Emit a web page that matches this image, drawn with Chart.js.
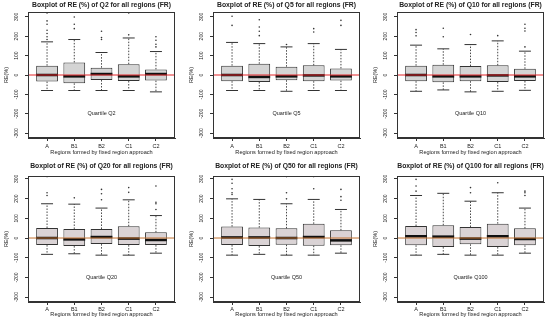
<!DOCTYPE html>
<html>
<head>
<meta charset="utf-8">
<script src="https://cdn.jsdelivr.net/npm/chart.js@4.4.1/dist/chart.umd.min.js"></script>
<style>
  body { margin: 0; background: #fff; width: 550px; height: 321px; position: relative; overflow: hidden; }
  canvas { position: absolute; }
</style>
</head>
<body>
<canvas id="c0" width="181" height="160" style="left:0;top:0"></canvas>
<canvas id="c1" width="181" height="160" style="left:185px;top:0"></canvas>
<canvas id="c2" width="181" height="160" style="left:369px;top:0"></canvas>
<canvas id="c3" width="181" height="161" style="left:0;top:160px"></canvas>
<canvas id="c4" width="181" height="161" style="left:185px;top:160px"></canvas>
<canvas id="c5" width="181" height="161" style="left:369px;top:160px"></canvas>
<script>
// regions (x categories) and y ticks
const regions = ['A', 'B1', 'B2', 'C1', 'C2'];
const yTicks = [-300, -200, -100, 0, 100, 200, 300];
const quantiles = ['Q2', 'Q5', 'Q10', 'Q20', 'Q50', 'Q100'];
const labelY = -200; // where "Quartile Qx" sits

// box stats per region: [lower whisker, Q1, median, Q3, upper whisker]
const q2Stats   = [[-80,-34,0,48,171], [-80,-43,-7,65,183], [-80,-26,5,38,116], [-80,-31,-7,56,191], [-87,-29,5,29,121]];
const q5Stats   = [[-80,-32,0,48,168], [-80,-36,-10,58,162], [-84,-27,-7,43,145], [-80,-32,-2,50,162], [-80,-29,-7,34,132]];
const q10Stats  = [[-84,-32,0,48,154], [-77,-38,-7,53,135], [-87,-32,-7,46,157], [-84,-36,-2,50,176], [-79,-31,-7,32,123]];
const q20Stats  = [[-83,-36,0,51,174], [-80,-41,-7,46,172], [-87,-31,5,46,152], [-87,-36,-3,60,194], [-77,-36,-10,29,114]];
const q50Stats  = [[-87,-36,3,58,199], [-83,-41,3,53,196], [-87,-34,0,49,174], [-87,-39,5,72,196], [-77,-37,-12,39,145]];
const q100Stats = [[-87,-37,9,61,216], [-83,-46,7,65,227], [-87,-32,-3,56,187], [-87,-46,9,73,230], [-77,-37,-5,49,152]];

// outliers per region
const q2Out   = [[183,197,214,231,262,279,320], [239,262,299], [183,193,226], [207,320], [145,159,179,197]];
const q5Out   = [[256,303], [203,226,248,285], [157], [222,239], [256,282]];
const q10Out  = [[202,219,234], [197,241], [209], [203], [145,227,241,262]];
const q20Out  = [[216,230,312], [204], [194,225,247], [232,256], [145,174,182,264]];
const q50Out  = [[221,230,250,278,298], [], [199,230,312], [250,312], [192,210,247]];
const q100Out = [[238,264,298], [], [230,256], [281,319], [216,230,238]];

const allStats = [q2Stats, q5Stats, q10Stats, q20Stats, q50Stats, q100Stats];
const allOut = [q2Out, q5Out, q10Out, q20Out, q50Out, q100Out];

const FONT = 'Liberation Sans';

// R style frame around the plot
const framePlugin = {
  id: 'frame',
  afterDraw(chart) {
    const a = chart.chartArea;
    const ctx = chart.ctx;
    ctx.save();
    ctx.strokeStyle = '#333';
    ctx.lineWidth = 1;
    ctx.strokeRect(Math.round(a.left) + 0.5, Math.round(a.top) + 0.5,
      Math.round(a.right - a.left) - 1, Math.round(a.bottom - a.top) - 1);
    ctx.restore();
  }
};

// "Quartile Qx" text inside plot
const noteText = {
  id: 'noteText',
  afterDatasetsDraw(chart, args, opts) {
    const ctx = chart.ctx;
    ctx.save();
    ctx.font = '5.5px "' + FONT + '"';
    ctx.fillStyle = '#222';
    ctx.textAlign = 'center';
    ctx.textBaseline = 'middle';
    ctx.fillText(opts.text, chart.scales.x.getPixelForValue(3), chart.scales.y.getPixelForValue(labelY));
    ctx.restore();
  }
};

function halfBox(ctx, frac) {
  const s = ctx.chart.scales.x;
  return s.getPixelForValue(1 + frac) - s.getPixelForValue(1);
}

function makeChart(idx) {
  const stats = allStats[idx];
  const outs = allOut[idx];
  const top = idx < 3;

  const boxes = stats.map((s, i) => ({ x: i + 1, y: [s[1], s[3]] }));
  const medians = stats.map((s, i) => ({ x: i + 1, y: s[2] }));
  const caps = [];
  const whiskers = [];
  stats.forEach((s, i) => {
    caps.push({ x: i + 1, y: s[0] }, { x: i + 1, y: s[4] });
    whiskers.push({ x: i + 1, y: s[1] }, { x: i + 1, y: s[0] }, { x: i + 1, y: null });
    whiskers.push({ x: i + 1, y: s[3] }, { x: i + 1, y: s[4] }, { x: i + 1, y: null });
  });
  const outPts = [];
  outs.forEach((arr, i) => arr.forEach(v => outPts.push({ x: i + 1, y: v })));

  new Chart(document.getElementById('c' + idx), {
    type: 'bar',
    data: {
      datasets: [
        {
          type: 'bar',
          data: boxes,
          backgroundColor: top ? '#d4d4d4' : '#dad3d5',
          borderColor: '#333',
          borderWidth: 1,
          borderSkipped: false,
          barPercentage: 0.8,
          categoryPercentage: 1,
          order: 5
        },
        {
          type: 'line',
          data: whiskers,
          borderColor: '#333',
          borderWidth: 0.9,
          borderDash: [1.5, 1.5],
          pointRadius: 0,
          spanGaps: false,
          order: 4
        },
        {
          type: 'scatter',
          data: caps,
          pointStyle: 'line',
          radius: c => halfBox(c, 0.22),
          borderColor: '#333',
          borderWidth: 1,
          order: 3
        },
        {
          type: 'scatter',
          data: medians,
          pointStyle: 'line',
          radius: c => halfBox(c, 0.4),
          borderColor: '#111',
          borderWidth: 2.5,
          order: 2
        },
        {
          type: 'scatter',
          data: outPts,
          pointStyle: 'circle',
          radius: 0.8,
          backgroundColor: '#333',
          borderWidth: 0,
          order: 2
        },
        {
          type: 'line',
          data: [{ x: 0.3, y: 0 }, { x: 5.7, y: 0 }],
          borderColor: top ? '#e3262b' : '#c2702f',
          borderWidth: 1,
          pointRadius: 0,
          order: 1
        }
      ]
    },
    options: {
      responsive: false,
      animation: false,
      events: [],
      layout: { padding: { left: 0, right: 6, top: 0, bottom: 0 } },
      plugins: {
        legend: { display: false },
        tooltip: { enabled: false },
        title: {
          display: true,
          fullSize: false,
          text: 'Boxplot of RE (%) of ' + quantiles[idx] + ' for all regions (FR)',
          color: '#222',
          font: { family: FONT, size: 6.8, weight: 'bold', lineHeight: 1 },
          padding: top ? { top: 1.5, bottom: 3.7 } : { top: 2.5, bottom: 6.7 }
        },
        noteText: { text: 'Quartile ' + quantiles[idx] }
      },
      scales: {
        x: {
          type: 'linear',
          min: 0.3,
          max: 5.7,
          offset: false,
          afterBuildTicks: s => { s.ticks = regions.map((r, i) => ({ value: i + 1 })); },
          afterFit: s => { s.height = top ? 22 : 19; },
          grid: { offset: false, drawOnChartArea: false, drawTicks: true, tickLength: 3, color: '#333' },
          border: { display: true, color: '#333' },
          ticks: {
            color: '#222',
            padding: top ? 2 : 1,
            maxRotation: 0,
            autoSkip: false,
            font: { family: FONT, size: 5.5 },
            callback: v => regions[v - 1]
          },
          title: {
            display: true,
            text: 'Regions formed by fixed region approach',
            color: '#222',
            font: { family: FONT, size: 5.6, lineHeight: 1.2 },
            padding: { top: 0, bottom: top ? 4.6 : 3.6 }
          }
        },
        y: {
          min: -325,
          max: top ? 325 : 315,
          afterBuildTicks: s => { s.ticks = yTicks.map(v => ({ value: v })); },
          afterFit: s => { s.width = 28; },
          grid: { drawOnChartArea: false, drawTicks: true, tickLength: 3, color: '#333' },
          border: { display: true, color: '#333' },
          ticks: {
            color: '#222',
            padding: 3,
            minRotation: 90,
            maxRotation: 90,
            crossAlign: 'center',
            font: { family: FONT, size: 5 },
            callback: v => String(v)
          },
          title: {
            display: true,
            text: 'RE(%)',
            color: '#222',
            font: { family: FONT, size: 5.5, lineHeight: 1.2 },
            padding: { top: 2.7, bottom: 0 }
          }
        }
      }
    },
    plugins: [framePlugin, noteText]
  });
}

for (let i = 0; i < 6; i++) makeChart(i);
</script>
</body>
</html>
